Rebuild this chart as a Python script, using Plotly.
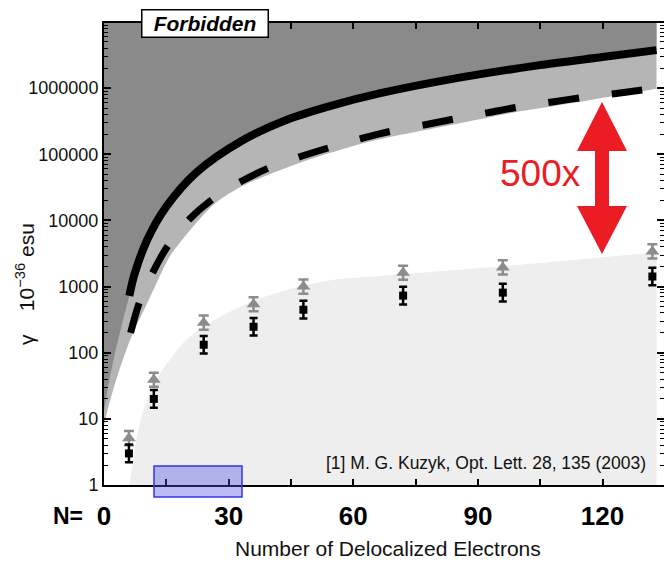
import plotly.graph_objects as go

# ---------------- data ----------------
N_vals = [6, 12, 24, 36, 48, 72, 96, 132]
gamma_gray = [5.1, 39, 285, 540, 1000, 1620, 1950, 3400]      # grey triangles
gamma_black = [3.0, 20, 132, 247, 447, 730, 810, 1420]       # black squares
gray_err_factor = 1.28
black_err_factor = 1.36

# fundamental limit (solid line)
solid_x = [6.1, 7.3, 10.5, 15.0, 22.3, 33.3, 43.9, 55.0, 66.3, 83.9, 104.1, 120.0, 133]
solid_y = [724, 1510, 5250, 16200, 53700, 162000, 331000, 550000, 832000,
           1380000, 2190000, 2950000, 3760000]

# dashed curve
dashed_x = [6.4, 8.3, 10.7, 15.0, 20.6, 26.1, 33.3, 40.3, 47.5, 54.8, 66.3, 77.6,
            84.8, 92.5, 100.2, 107.9, 115.2, 123.3, 130.6]
dashed_y = [200, 525, 1200, 3800, 10500, 20900, 39800, 64600, 93300, 129000, 204000,
            282000, 347000, 427000, 525000, 617000, 724000, 832000, 955000]

# forbidden region: its edge continues below the start of the solid line
forbid_ext_x = [0, 1.0, 2.5, 4.2]
forbid_ext_y = [13.2, 31.6, 89.1, 251]

# lower edge of the medium-grey band
band_x = [0, 1.3, 3.7, 6.6, 10.2, 13, 15.8, 21.1, 26.6, 33.3, 47, 63.8, 84.8, 100.2, 115.2, 133]
band_y = [7.9, 17.4, 55, 174, 525, 1260, 2820, 7590, 17800, 33100, 74100, 155000,
          288000, 447000, 631000, 977000]

# upper edge of the light-grey (measured) region
light_x = [6.1, 7.8, 9.3, 12.6, 15.8, 19.9, 25.4, 35.0, 43.9, 55.0, 66.3, 90.4, 114.4, 133]
light_y = [1, 4.8, 12.3, 38.9, 77.6, 158, 282, 575, 891, 1259, 1445, 1905, 2570, 3311]

x_tickvals = [0, 15, 30, 45, 60, 75, 90, 105, 120]
x_ticktext = ["0", "", "30", "", "60", "", "90", "", "120"]

# ---------------- styling ----------------
FONT = "Liberation Sans, Arial, Helvetica, sans-serif"
DARK = "#8a8a8a"
MID = "#b5b5b5"
LIGHT = "#eeeeee"
GRAYMK = "#8c8c8c"
RED = "#ec1c24"

L, T, W, H = 104, 23, 560, 462


def paper(xp, yp):
    return (xp - L) / W, (T + H - yp) / H


fig = go.Figure()

# light-grey region (below its edge)
fig.add_trace(go.Scatter(x=light_x, y=[0.5] * len(light_x), mode="lines",
                         line=dict(width=0), hoverinfo="skip", showlegend=False))
fig.add_trace(go.Scatter(x=light_x, y=light_y, mode="lines", fill="tonexty",
                         fillcolor=LIGHT, line=dict(width=0, shape="spline", smoothing=0.8),
                         hoverinfo="skip", showlegend=False))

# medium-grey band (above its lower edge)
fig.add_trace(go.Scatter(x=band_x, y=band_y, mode="lines",
                         line=dict(width=0, shape="spline", smoothing=0.8),
                         hoverinfo="skip", showlegend=False))
fig.add_trace(go.Scatter(x=[band_x[0], band_x[-1]], y=[3e7, 3e7], mode="lines",
                         fill="tonexty", fillcolor=MID, line=dict(width=0),
                         hoverinfo="skip", showlegend=False))

# dark forbidden region
forbid_x = forbid_ext_x + solid_x
forbid_y = forbid_ext_y + solid_y
fig.add_trace(go.Scatter(x=forbid_x, y=forbid_y, mode="lines",
                         line=dict(width=0, shape="spline", smoothing=0.8),
                         hoverinfo="skip", showlegend=False))
fig.add_trace(go.Scatter(x=[forbid_x[0], forbid_x[-1]], y=[3e7, 3e7], mode="lines",
                         fill="tonexty", fillcolor=DARK, line=dict(width=0),
                         hoverinfo="skip", showlegend=False))

# curves
fig.add_trace(go.Scatter(x=solid_x, y=solid_y, mode="lines",
                         line=dict(color="black", width=8, shape="spline", smoothing=0.9),
                         showlegend=False))
fig.add_trace(go.Scatter(x=dashed_x, y=dashed_y, mode="lines",
                         line=dict(color="black", width=7, shape="spline", smoothing=0.9,
                                   dash="31px,33px"),
                         showlegend=False))

# data points with error bars
g_up = [v * (gray_err_factor - 1) for v in gamma_gray]
g_dn = [v * (1 - 1 / gray_err_factor) for v in gamma_gray]
b_up = [v * (black_err_factor - 1) for v in gamma_black]
b_dn = [v * (1 - 1 / black_err_factor) for v in gamma_black]

fig.add_trace(go.Scatter(x=N_vals, y=gamma_gray, mode="markers",
                         marker=dict(symbol="triangle-up", size=12, color=GRAYMK),
                         error_y=dict(type="data", array=g_up, arrayminus=g_dn,
                                      color=GRAYMK, thickness=2.5, width=5),
                         showlegend=False))
fig.add_trace(go.Scatter(x=N_vals, y=gamma_black, mode="markers",
                         marker=dict(symbol="square", size=8, color="black"),
                         error_y=dict(type="data", array=b_up, arrayminus=b_dn,
                                      color="black", thickness=2.5, width=4),
                         showlegend=False))

# ---------------- shapes ----------------
arrow_px = [(602, 102), (627, 151), (609, 151), (609, 206), (627, 206), (602, 254),
            (577, 206), (595, 206), (595, 151), (577, 151)]
pts = [paper(a, b) for a, b in arrow_px]
path = "M " + " L ".join(f"{px:.5f},{py:.5f}" for px, py in pts) + " Z"
shapes = [
    dict(type="path", xref="paper", yref="paper", path=path,
         fillcolor=RED, line=dict(width=0), layer="above"),
]
bx0, by0 = paper(154, 466)
bx1, by1 = paper(242, 497)
shapes.append(dict(type="rect", xref="paper", yref="paper", x0=bx0, y0=by0, x1=bx1, y1=by1,
                   fillcolor="rgba(80,80,225,0.38)", line=dict(color="#3535e8", width=1.5),
                   layer="above"))

# ---------------- annotations ----------------
ann = []
fx, fy = paper(205, 23)
ann.append(dict(xref="paper", yref="paper", x=fx, y=fy, xanchor="center", yanchor="middle",
                text="<b><i>Forbidden</i></b>", showarrow=False,
                font=dict(family=FONT, size=21, color="black"),
                bgcolor="white", bordercolor="black", borderwidth=1.5, borderpad=1,
                width=123, height=24))
tx, ty = paper(540, 173)
ann.append(dict(xref="paper", yref="paper", x=tx, y=ty, xanchor="center", yanchor="middle",
                text="500x", showarrow=False, font=dict(family=FONT, size=37, color=RED)))
cx, cy = paper(648, 463)
ann.append(dict(xref="paper", yref="paper", x=cx, y=cy, xanchor="right", yanchor="middle",
                text="[1] M. G. Kuzyk, Opt. Lett. 28, 135 (2003)", showarrow=False,
                font=dict(family=FONT, size=17.5, color="#111111")))
nx, ny = paper(68, 516)
ann.append(dict(xref="paper", yref="paper", x=nx, y=ny, xanchor="center", yanchor="middle",
                text="<b>N=</b>", showarrow=False, font=dict(family=FONT, size=23, color="black")))
ax_, ay_ = paper(388, 548)
ann.append(dict(xref="paper", yref="paper", x=ax_, y=ay_, xanchor="center", yanchor="middle",
                text="Number of Delocalized Electrons", showarrow=False,
                font=dict(family=FONT, size=21, color="#111111")))
yx, yy = paper(25, 284)
ann.append(dict(xref="paper", yref="paper", x=yx, y=yy, xanchor="center", yanchor="middle",
                text="γ\u00a0\u00a0\u00a0\u00a010<sup>−36</sup> esu", textangle=-90, showarrow=False,
                font=dict(family=FONT, size=21, color="#111111")))

fig.update_layout(
    width=664, height=563,
    margin=dict(l=L, r=664 - L - W, t=T, b=563 - T - H, autoexpand=False),
    paper_bgcolor="white", plot_bgcolor="white",
    showlegend=False,
    shapes=shapes, annotations=ann,
    xaxis=dict(range=[0, 134.8], tickmode="array", tickvals=x_tickvals, ticktext=x_ticktext,
               ticks="inside", ticklen=6, tickwidth=1.5, tickcolor="black",
               showgrid=False, zeroline=False, showline=True, linecolor="black",
               linewidth=2, mirror="ticks", automargin=False,
               tickfont=dict(family=FONT, size=26, color="black", weight="bold"),
               ticklabelstandoff=7),
    yaxis=dict(type="log", range=[0, 6.985], tickmode="linear", tick0=0, dtick=1,
               tickformat="d", ticks="inside", ticklen=7, tickwidth=1.5, tickcolor="black",
               minor=dict(dtick="D1", ticks="inside", ticklen=4, tickwidth=1,
                          tickcolor="black", showgrid=False),
               showgrid=False, zeroline=False, showline=True, linecolor="black",
               linewidth=2, mirror="ticks", automargin=False,
               tickfont=dict(family=FONT, size=18, color="#111111")),
)

fig.write_html("out.html", config={"displayModeBar": False},
               post_script="document.body.style.margin='0px';document.body.style.overflow='hidden';")
